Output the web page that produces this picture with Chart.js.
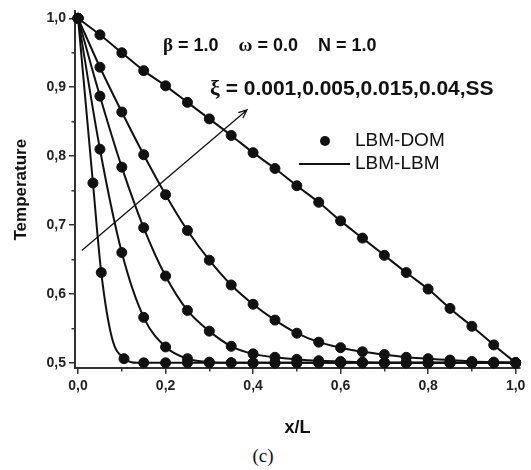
<!DOCTYPE html>
<html>
<head>
<meta charset="utf-8">
<script src="https://cdn.jsdelivr.net/npm/chart.js@4"></script>
<style>
  body { margin: 0; background: #fff; }
  #caixa { position: relative; width: 531px; height: 470px; }
  #grafico1 { position: absolute; left: 0; top: 0; }
  #rotulo { position: absolute; left: 0; top: 445px; width: 526px; text-align: center;
            font-family: "Liberation Serif", "Times New Roman", serif; font-size: 19px; color: #111; }
</style>
</head>
<body>
<div id="caixa">
  <canvas id="grafico1" width="531" height="445"></canvas>
  <div id="rotulo">(c)</div>
</div>
<script>
// posições x/L onde estão os pontos
const xL = [0, 0.05, 0.1, 0.15, 0.2, 0.25, 0.3, 0.35, 0.4, 0.45, 0.5,
            0.55, 0.6, 0.65, 0.7, 0.75, 0.8, 0.85, 0.9, 0.95, 1.0];

// temperatura para cada xi
const tSS   = [1.0, 0.976, 0.950, 0.924, 0.902, 0.878, 0.854, 0.830, 0.805, 0.782, 0.757,
               0.733, 0.706, 0.681, 0.656, 0.631, 0.607, 0.579, 0.553, 0.526, 0.500];
const t004  = [1.0, 0.929, 0.864, 0.802, 0.744, 0.692, 0.649, 0.613, 0.585, 0.562, 0.543,
               0.530, 0.522, 0.516, 0.512, 0.508, 0.506, 0.504, 0.502, 0.501, 0.500];
const t0015 = [1.0, 0.887, 0.784, 0.696, 0.626, 0.576, 0.546, 0.524, 0.513, 0.508, 0.505,
               0.503, 0.502, 0.501, 0.500, 0.500, 0.500, 0.500, 0.500, 0.500, 0.500];
const t0005 = [1.0, 0.810, 0.660, 0.566, 0.523, 0.506, 0.501, 0.500, 0.500, 0.500, 0.500,
               0.500, 0.500, 0.500, 0.500, 0.500, 0.500, 0.500, 0.500, 0.500, 0.500];

// xi = 0.001 tem pontos em outras posições
const xDom0001 = [0, 0.034, 0.053, 0.105, 0.15, 0.2, 0.25, 0.3, 0.35, 0.4, 0.45, 0.5,
                  0.55, 0.6, 0.65, 0.7, 0.75, 0.8, 0.85, 0.9, 0.95, 1.0];
const tDom0001 = [1.0, 0.761, 0.631, 0.506, 0.500, 0.500, 0.500, 0.500, 0.500, 0.500, 0.500, 0.500,
                  0.500, 0.500, 0.500, 0.500, 0.500, 0.500, 0.500, 0.500, 0.500, 0.500];
const xLbm0001 = [0, 0.034, 0.053, 0.078, 0.107, 0.135, 1.0];
const tLbm0001 = [1.0, 0.761, 0.631, 0.535, 0.506, 0.500, 0.500];

// ticks dos eixos
const xTicks = [0, 0.1, 0.2, 0.3, 0.4, 0.5, 0.6, 0.7, 0.8, 0.9, 1.0];
const yTicks = [0.5, 0.55, 0.6, 0.65, 0.7, 0.75, 0.8, 0.85, 0.9, 0.95, 1.0];

// seta indicando o aumento de xi
const setaX = [0.0085, 0.386];
const setaT = [0.663, 0.867];

const pares = (xs, ts) => xs.map((x, i) => ({ x: x, y: ts[i] }));
const fmt = (v) => v.toFixed(1).replace(".", ",");

function linha(xs, ts) {
  return {
    type: "line",
    data: pares(xs, ts),
    borderColor: "#111",
    borderWidth: 2,
    pointRadius: 0,
    cubicInterpolationMode: "monotone",
    fill: false,
    clip: false,
  };
}
function pontos(xs, ts) {
  return {
    type: "scatter",
    data: pares(xs, ts),
    backgroundColor: "#111",
    borderColor: "#111",
    pointRadius: 5,
    showLine: false,
    clip: false,
  };
}

// textos, seta e legenda desenhados por cima
const anotacoes = {
  id: "anotacoes",
  afterDatasetsDraw(chart) {
    const ctx = chart.ctx;
    const sx = chart.scales.x, sy = chart.scales.y;
    ctx.save();
    ctx.strokeStyle = "#111";
    ctx.fillStyle = "#111";

    // seta
    const x0 = sx.getPixelForValue(setaX[0]), y0 = sy.getPixelForValue(setaT[0]);
    const x1 = sx.getPixelForValue(setaX[1]), y1 = sy.getPixelForValue(setaT[1]);
    ctx.lineWidth = 1.3;
    ctx.beginPath();
    ctx.moveTo(x0, y0);
    ctx.lineTo(x1, y1);
    const ang = Math.atan2(y1 - y0, x1 - x0);
    ctx.moveTo(x1 - 9 * Math.cos(ang - 0.4), y1 - 9 * Math.sin(ang - 0.4));
    ctx.lineTo(x1, y1);
    ctx.lineTo(x1 - 9 * Math.cos(ang + 0.4), y1 - 9 * Math.sin(ang + 0.4));
    ctx.stroke();

    // ticks menores (sem rótulo) ficam mais curtos: apaga a ponta deles
    ctx.fillStyle = "#fff";
    xTicks.forEach((v) => {
      if (Math.round(v * 10) % 2 === 1) ctx.fillRect(sx.getPixelForValue(v) - 2, chart.chartArea.bottom + 3.5, 4, 3);
    });
    yTicks.forEach((v) => {
      if (Math.round(v * 100) % 10 !== 0) ctx.fillRect(chart.chartArea.left - 6.5, sy.getPixelForValue(v) - 2, 3, 4);
    });
    ctx.fillStyle = "#111";

    // textos com letras gregas
    ctx.textBaseline = "alphabetic";
    ctx.textAlign = "left";
    function escreve(partes, x, y) {
      partes.forEach((p) => {
        ctx.font = p[1];
        ctx.fillText(p[0], x, y);
        x += ctx.measureText(p[0]).width;
      });
    }
    const sans = 'bold 18px "Liberation Sans", Arial, sans-serif';
    const grego = 'bold 19px "Liberation Serif", "Times New Roman", serif';
    escreve([["β", grego], [" = 1.0    ", sans], ["ω", grego], [" = 0.0    N = 1.0", sans]], 163, 51);
    escreve([["ξ", 'bold 22px "Liberation Serif", serif'],
             [" = 0.001,0.005,0.015,0.04,SS", 'bold 21px "Liberation Sans", Arial, sans-serif']], 210, 95);

    // legenda
    ctx.beginPath();
    ctx.arc(325, 141, 5, 0, Math.PI * 2);
    ctx.fill();
    ctx.lineWidth = 2;
    ctx.beginPath();
    ctx.moveTo(299, 164);
    ctx.lineTo(350, 164);
    ctx.stroke();
    ctx.font = '19px "Liberation Sans", Arial, sans-serif';
    ctx.textBaseline = "middle";
    ctx.fillText("LBM-DOM", 355, 141);
    ctx.fillText("LBM-LBM", 355, 164);
    ctx.restore();
  },
};

const ctx = document.getElementById("grafico1").getContext("2d");
new Chart(ctx, {
  data: {
    datasets: [
      linha(xL, tSS), linha(xL, t004), linha(xL, t0015), linha(xL, t0005), linha(xLbm0001, tLbm0001),
      pontos(xL, tSS), pontos(xL, t004), pontos(xL, t0015), pontos(xL, t0005), pontos(xDom0001, tDom0001),
    ],
  },
  options: {
    responsive: false,
    animation: false,
    layout: { padding: { top: 6, right: 11, left: 0, bottom: 0 } },
    plugins: { legend: { display: false }, tooltip: { enabled: false } },
    scales: {
      x: {
        type: "linear",
        min: -0.007,
        max: 1.01,
        afterBuildTicks: (s) => { s.ticks = xTicks.map((v) => ({ value: v })); },
        afterFit: (s) => { s.height = 77; },
        ticks: {
          autoSkip: false,
          maxRotation: 0,
          padding: 4,
          color: "#222",
          font: { family: '"Liberation Sans", Arial', size: 14, weight: "bold" },
          callback: (v) => (Math.round(v * 10) % 2 === 0 ? fmt(v) : ""),
        },
        grid: { drawOnChartArea: false, drawTicks: true, tickLength: 6, color: "#333", lineWidth: 1.5 },
        border: { display: true, color: "#333", width: 2 },
        title: {
          display: true,
          text: "x/L",
          color: "#111",
          font: { family: '"Liberation Sans", Arial', size: 18, weight: "bold" },
          padding: { top: 0, bottom: 6 },
        },
      },
      y: {
        type: "linear",
        min: 0.4925,
        max: 1.01,
        afterBuildTicks: (s) => { s.ticks = yTicks.map((v) => ({ value: v })); },
        afterFit: (s) => { s.width = 75; },
        ticks: {
          autoSkip: false,
          padding: 3,
          color: "#222",
          font: { family: '"Liberation Sans", Arial', size: 14, weight: "bold" },
          callback: (v) => (Math.round(v * 100) % 10 === 0 ? fmt(v) : ""),
        },
        grid: { drawOnChartArea: false, drawTicks: true, tickLength: 6, color: "#333", lineWidth: 1.5 },
        border: { display: true, color: "#333", width: 2 },
        title: {
          display: true,
          text: "Temperature",
          color: "#111",
          font: { family: '"Liberation Sans", Arial', size: 17, weight: "bold" },
          padding: { top: 11, bottom: 0 },
        },
      },
    },
  },
  plugins: [anotacoes],
});
</script>
</body>
</html>
